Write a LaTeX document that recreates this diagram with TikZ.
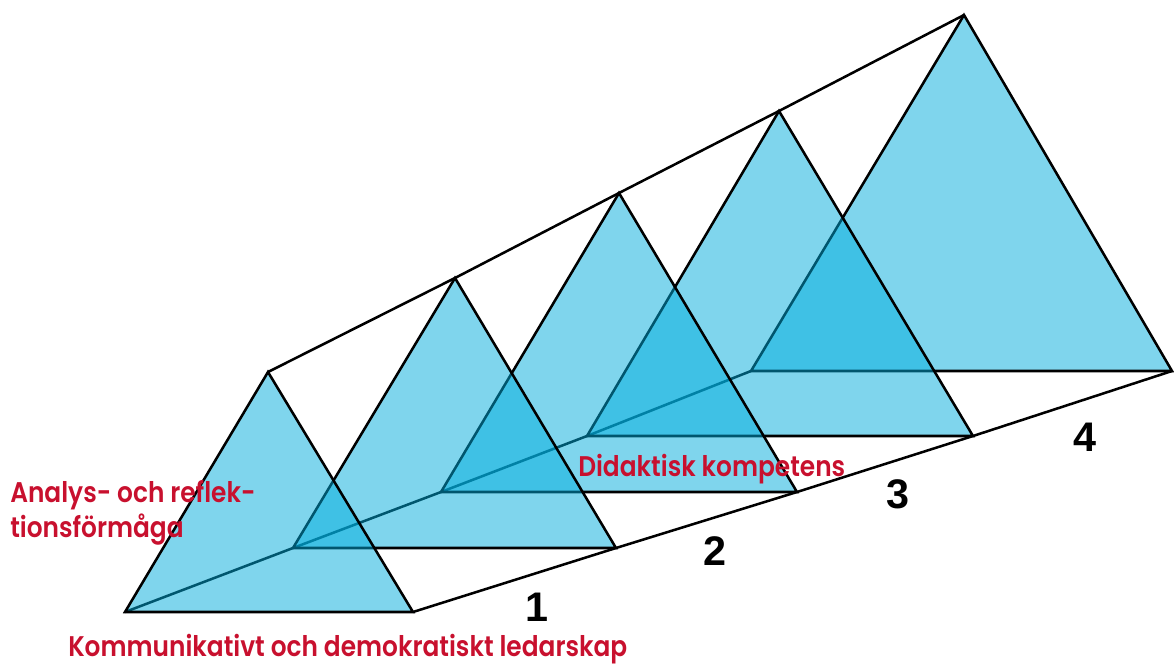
\documentclass[tikz,border=0pt]{standalone}
\usepackage{fontspec}
\newfontfamily\labfont[FakeStretch=0.875]{Poppins SemiBold}
\newfontfamily\numfont{Liberation Sans}
\definecolor{tricol}{RGB}{0,172,220}
\definecolor{labcol}{RGB}{200,16,46}
\tikzset{
  edge/.style={draw=black,line width=1.9pt,line join=miter},
  tri/.style={fill=tricol,fill opacity=0.5,draw=black,line width=1.9pt,line join=miter},
  lab/.style={text=labcol,font=\labfont\fontsize{21.3}{26}\selectfont,inner sep=0pt,anchor=base west},
  num/.style={text=black,font=\numfont\bfseries\fontsize{31}{31}\selectfont,inner sep=0pt}
}
\begin{document}
\begin{tikzpicture}[x=0.75pt,y=-0.75pt]
\useasboundingbox (0,0) rectangle (1174,664);
% corners: L = bottom left, R = bottom right, T = apex
\coordinate (L1) at (125,612); \coordinate (R1) at (413,612); \coordinate (T1) at (268,372);
\coordinate (L2) at (293,548); \coordinate (R2) at (616,548); \coordinate (T2) at (455,278);
\coordinate (L3) at (441,492); \coordinate (R3) at (797,492); \coordinate (T3) at (619,193);
\coordinate (L4) at (587,436); \coordinate (R4) at (973,436); \coordinate (T4) at (779,111);
\coordinate (L5) at (751,371); \coordinate (R5) at (1172,371); \coordinate (T5) at (964,15);
% connecting lines
\draw[edge] (L1) -- (L2) -- (L3) -- (L4) -- (L5);
\draw[edge] (T1) -- (T2) -- (T3) -- (T4) -- (T5);
\draw[edge] (R1) -- (R2) -- (R3) -- (R4) -- (R5);
% triangles back to front
\path[tri] (L5) -- (R5) -- (T5) -- cycle;
\path[tri] (L4) -- (R4) -- (T4) -- cycle;
\path[tri] (L3) -- (R3) -- (T3) -- cycle;
\path[tri] (L2) -- (R2) -- (T2) -- cycle;
\path[tri] (L1) -- (R1) -- (T1) -- cycle;
% numbers
\node[num] (n1) at (537,607) {1};
\node[num] (n2) at (715,551) {2};
\node[num] (n3) at (898,494) {3};
\node[num] (n4) at (1085,437) {4};
% labels
\node[lab] (a1) at (10,502) {Analys- och reflek-};
\node[lab] (a2) at (10,537) {tionsförmåga};
\node[lab] (d) at (578,476) {Didaktisk kompetens};
\node[lab] (k) at (68,656) {Kommunikativt och demokratiskt ledarskap};
\end{tikzpicture}
\end{document}
